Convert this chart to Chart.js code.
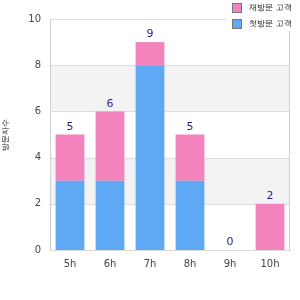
<!DOCTYPE html>
<html>
<head>
<meta charset="utf-8">
<script src="https://cdn.jsdelivr.net/npm/chart.js@4/dist/chart.umd.min.js"></script>
<style>
  html, body { margin: 0; padding: 0; background: #fff; }
  #wrap { width: 300px; height: 300px; }
</style>
</head>
<body>
<div id="wrap"><canvas id="chart1" width="300" height="300"></canvas></div>
<script>
const hours = ['5h', '6h', '7h', '8h', '9h', '10h'];
const firstVisit = [3, 3, 8, 3, 0, 0];
const returnVisit = [2, 3, 1, 2, 0, 2];
const yTicks = [0, 2, 4, 6, 8, 10];
const bands = [[2, 4], [6, 8]];

const fontFam = '"DejaVu Sans", sans-serif';

// grey bands behind the bars + frame
const bandPlugin = {
    id: 'bands',
    beforeDatasetsDraw(chart) {
        const { ctx, chartArea, scales } = chart;
        ctx.save();
        ctx.fillStyle = '#f3f3f3';
        bands.forEach(b => {
            const y1 = scales.y.getPixelForValue(b[1]);
            const y0 = scales.y.getPixelForValue(b[0]);
            ctx.fillRect(chartArea.left, y1, chartArea.right - chartArea.left, y0 - y1);
        });
        ctx.strokeStyle = '#dcdcdc';
        ctx.lineWidth = 1;
        yTicks.forEach(v => {
            const y = Math.round(scales.y.getPixelForValue(v)) + 0.5;
            ctx.beginPath();
            ctx.moveTo(chartArea.left, y);
            ctx.lineTo(chartArea.right, y);
            ctx.stroke();
        });
        ctx.strokeStyle = '#cfcfcf';
        ctx.beginPath();
        ctx.moveTo(Math.round(chartArea.left) + 0.5, chartArea.top);
        ctx.lineTo(Math.round(chartArea.left) + 0.5, chartArea.bottom);
        ctx.moveTo(Math.round(chartArea.right) - 0.5, chartArea.top);
        ctx.lineTo(Math.round(chartArea.right) - 0.5, chartArea.bottom);
        ctx.stroke();
        ctx.restore();
    }
};

// totals above each stack
const totalsPlugin = {
    id: 'totals',
    afterDatasetsDraw(chart) {
        const { ctx, scales } = chart;
        ctx.save();
        ctx.fillStyle = '#1c1c96';
        ctx.font = '11px ' + fontFam;
        ctx.textAlign = 'center';
        ctx.textBaseline = 'bottom';
        hours.forEach((h, i) => {
            const total = firstVisit[i] + returnVisit[i];
            const x = scales.x.getPixelForValue(i);
            const y = scales.y.getPixelForValue(total);
            ctx.fillText(String(total), x, y - 2);
        });
        ctx.restore();
    }
};

// legend box in the top right corner
const legendPlugin = {
    id: 'cornerLegend',
    afterDraw(chart) {
        const { ctx } = chart;
        const items = chart.data.datasets.slice().reverse();
        ctx.save();
        ctx.fillStyle = '#fff';
        ctx.fillRect(226, 0, 74, 31);
        ctx.font = '8px ' + fontFam;
        ctx.textBaseline = 'middle';
        items.forEach((ds, i) => {
            const y = 4 + i * 16;
            ctx.fillStyle = ds.backgroundColor;
            ctx.fillRect(233, y, 8, 8);
            ctx.strokeStyle = '#777';
            ctx.lineWidth = 1;
            ctx.strokeRect(232.5, y - 0.5, 9, 9);
            ctx.fillStyle = '#111';
            ctx.fillText(ds.label, 249, y + 4);
        });
        ctx.restore();
    }
};

new Chart(document.getElementById('chart1'), {
    type: 'bar',
    data: {
        labels: hours,
        datasets: [{
            label: '첫방문 고객',
            data: firstVisit,
            backgroundColor: '#5fa8f4',
            barPercentage: 0.72,
            categoryPercentage: 1
        }, {
            label: '재방문 고객',
            data: returnVisit,
            backgroundColor: '#f283bc',
            barPercentage: 0.72,
            categoryPercentage: 1
        }]
    },
    plugins: [bandPlugin, totalsPlugin, legendPlugin],
    options: {
        responsive: false,
        animation: false,
        layout: { padding: { top: 19, right: 10, left: 0, bottom: 0 } },
        plugins: {
            legend: { display: false },
            tooltip: { enabled: false }
        },
        scales: {
            x: {
                stacked: true,
                grid: { display: false, drawTicks: false },
                border: { display: true, color: '#cfcfcf' },
                ticks: { color: '#444', font: { family: fontFam, size: 10 }, padding: 8 },
                afterFit: s => { s.height = 50; }
            },
            y: {
                stacked: true,
                min: 0,
                max: 10,
                grid: { display: false, drawTicks: false },
                border: { display: false },
                ticks: { stepSize: 2, color: '#444', font: { family: fontFam, size: 10 }, padding: 9 },
                title: { display: true, text: '방문자수', color: '#222', font: { family: fontFam, size: 8 }, padding: 1 },
                afterFit: s => { s.width = 50; }
            }
        }
    }
});
</script>
</body>
</html>
